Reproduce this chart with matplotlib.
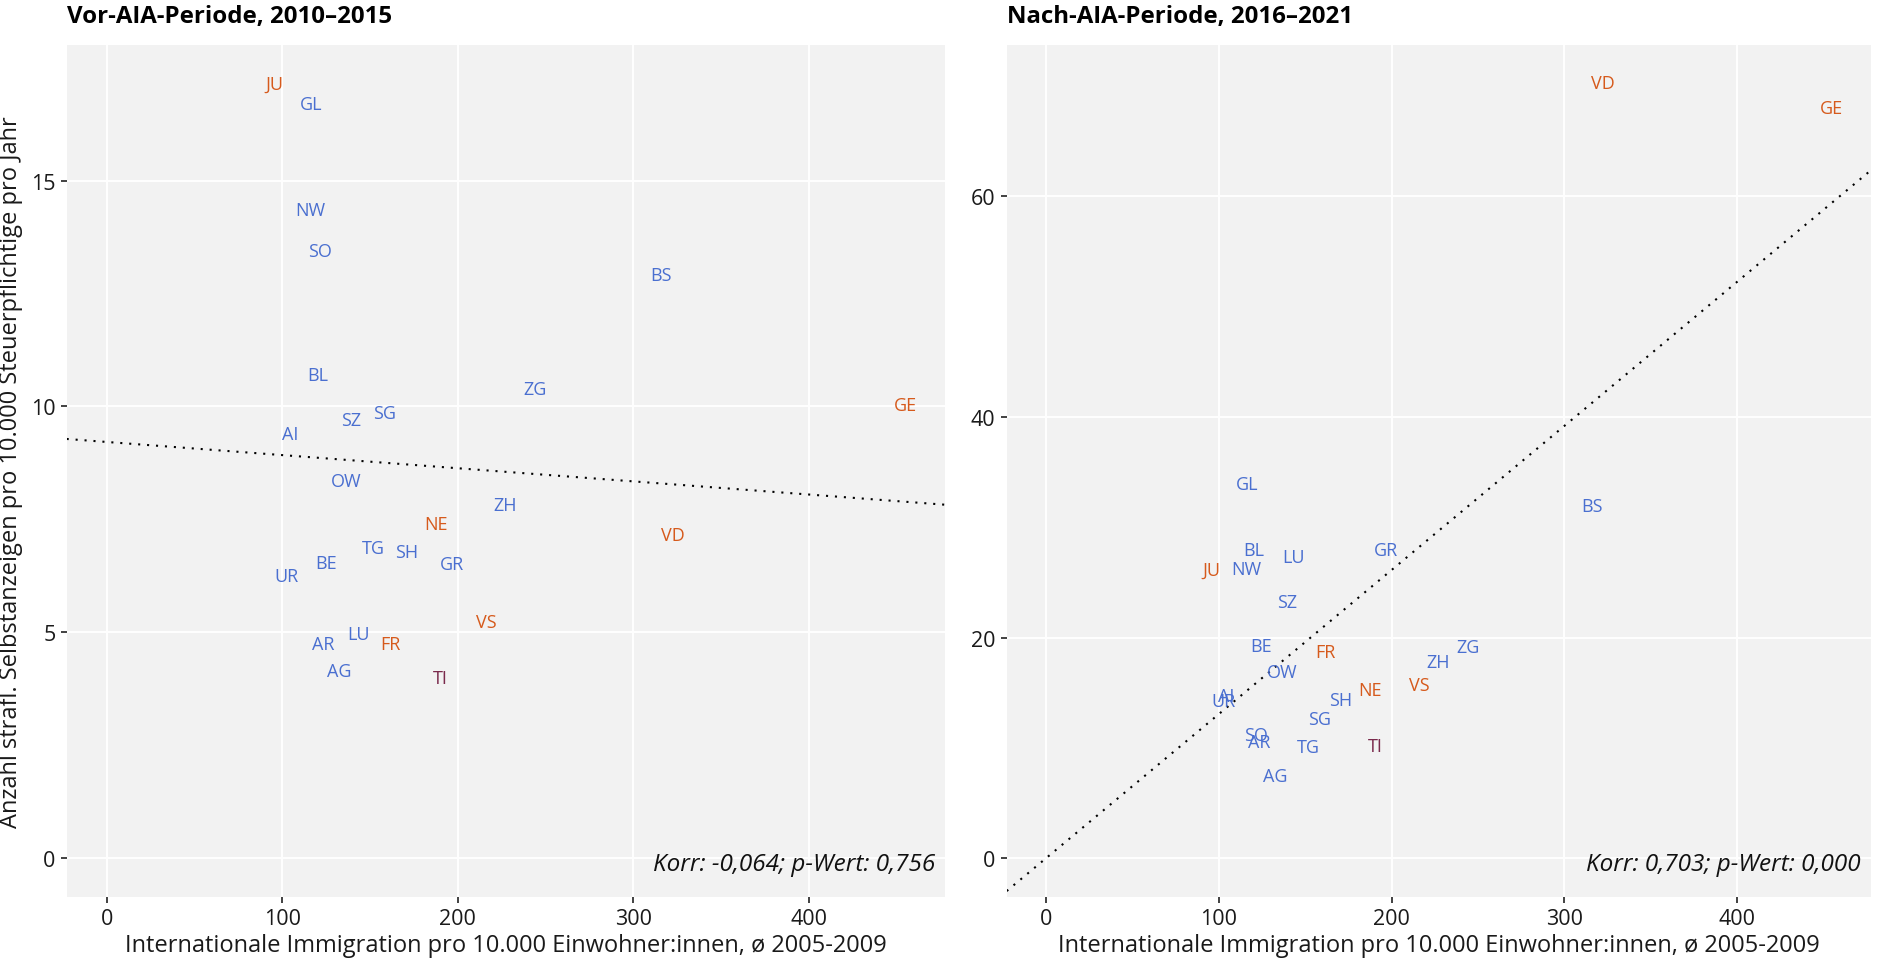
import numpy as np
import matplotlib
matplotlib.use("Agg")
import matplotlib.pyplot as plt

plt.rcParams['font.family'] = ['Open Sans', 'DejaVu Sans']

# Kantone und Sprachregion
cantons = ['JU', 'GL', 'NW', 'SO', 'BS', 'BL', 'ZG', 'GE', 'SZ', 'SG', 'AI', 'OW', 'ZH',
           'NE', 'VD', 'TG', 'SH', 'GR', 'BE', 'UR', 'VS', 'LU', 'AR', 'FR', 'AG', 'TI']
region = ['fr', 'de', 'de', 'de', 'de', 'de', 'de', 'fr', 'de', 'de', 'de', 'de', 'de',
          'fr', 'fr', 'de', 'de', 'de', 'de', 'de', 'fr', 'de', 'de', 'fr', 'de', 'it']

# Internationale Immigration pro 10.000 Einwohner:innen, 2005-2009
immigration = [95.8, 116.4, 116.0, 121.6, 315.8, 120.5, 244.2, 454.6, 139.4, 158.1, 104.4, 136.4, 227.0,
               187.6, 322.4, 152.0, 170.6, 196.8, 124.7, 102.6, 216.0, 143.5, 123.4, 161.7, 132.7, 190.3]

# Selbstanzeigen pro 10.000 Steuerpflichtige, 2010-2015
pre_aia = [17.15, 16.70, 14.35, 13.44, 12.91, 10.69, 10.39, 10.03, 9.70, 9.85, 9.40, 8.34, 7.83,
           7.40, 7.16, 6.86, 6.78, 6.52, 6.53, 6.24, 5.22, 4.96, 4.74, 4.74, 4.14, 3.98]

# Selbstanzeigen pro 10.000 Steuerpflichtige, 2016-2021
post_aia = [26.13, 33.93, 26.19, 11.18, 31.90, 27.95, 19.12, 67.99, 23.20, 12.63, 14.74, 16.86, 17.76,
            15.29, 70.20, 10.06, 14.35, 27.95, 19.27, 14.29, 15.71, 27.28, 10.57, 18.73, 7.49, 10.21]

# Regressionsgeraden (Achsenabschnitt, Steigung)
fit_pre = (9.215, -0.00291)
fit_post = (0.0, 0.1306)

corr_pre = 'Korr: -0,064; p-Wert: 0,756'
corr_post = 'Korr: 0,703; p-Wert: 0,000'

titles = ['Vor-AIA-Periode, 2010–2015', 'Nach-AIA-Periode, 2016–2021']
x_label = 'Internationale Immigration pro 10.000 Einwohner:innen, ø 2005-2009'
y_label = 'Anzahl strafl. Selbstanzeigen pro 10.000 Steuerpflichtige pro Jahr'

region_colors = {'de': '#4a6fd0', 'fr': '#d65a1c', 'it': '#7a2a4c'}


def expand(values):
    # ggplot-artige Erweiterung um 5 %, inkl. 0
    lo = min(0, min(values))
    hi = max(values)
    r = hi - lo
    return lo - 0.05 * r, hi + 0.05 * r


def draw_panel(ax, yvals, fit, corr_text, title, yticks):
    ax.set_facecolor('#f2f2f2')
    for s in ax.spines.values():
        s.set_visible(False)
    ax.set_xlim(*expand(immigration))
    ax.set_ylim(*expand(yvals))
    ax.set_xticks([0, 100, 200, 300, 400])
    ax.set_yticks(yticks)
    ax.grid(True, color='white', linewidth=1.4)
    ax.set_axisbelow(True)
    ax.tick_params(axis='both', length=4, width=1.3, color='#333333',
                   labelsize=15.5, labelcolor='#1a1a1a', pad=4)

    # Regressionsgerade
    xs = np.array(ax.get_xlim())
    ax.plot(xs, fit[0] + fit[1] * xs, color='black', linewidth=1.5,
            linestyle=(0, (1, 3.3)), zorder=2)
    ax.set_xlim(*expand(immigration))

    for name, reg, x, y in zip(cantons, region, immigration, yvals):
        ax.text(x, y, name, color=region_colors[reg], fontsize=13,
                ha='center', va='center', zorder=3)

    ax.text(1 - 10 / 878, 33 / 852, corr_text, transform=ax.transAxes,
            ha='right', va='center', fontsize=17.5, style='italic', color='#111111')
    ax.set_title(title, loc='left', fontsize=17.3, fontweight='bold', pad=16)
    ax.set_xlabel(x_label, fontsize=17, color='#1a1a1a', labelpad=3)


fig = plt.figure(figsize=(18.83, 9.62), dpi=100)
ax1 = fig.add_axes([0.0354, 0.0665, 0.4664, 0.886])
ax2 = fig.add_axes([0.5346, 0.0665, 0.4590, 0.886])

draw_panel(ax1, pre_aia, fit_pre, corr_pre, titles[0], [0, 5, 10, 15])
draw_panel(ax2, post_aia, fit_post, corr_post, titles[1], [0, 20, 40, 60])
ax1.set_ylabel(y_label, fontsize=17, color='#1a1a1a', labelpad=6)

fig.savefig('out.png', dpi=100)
